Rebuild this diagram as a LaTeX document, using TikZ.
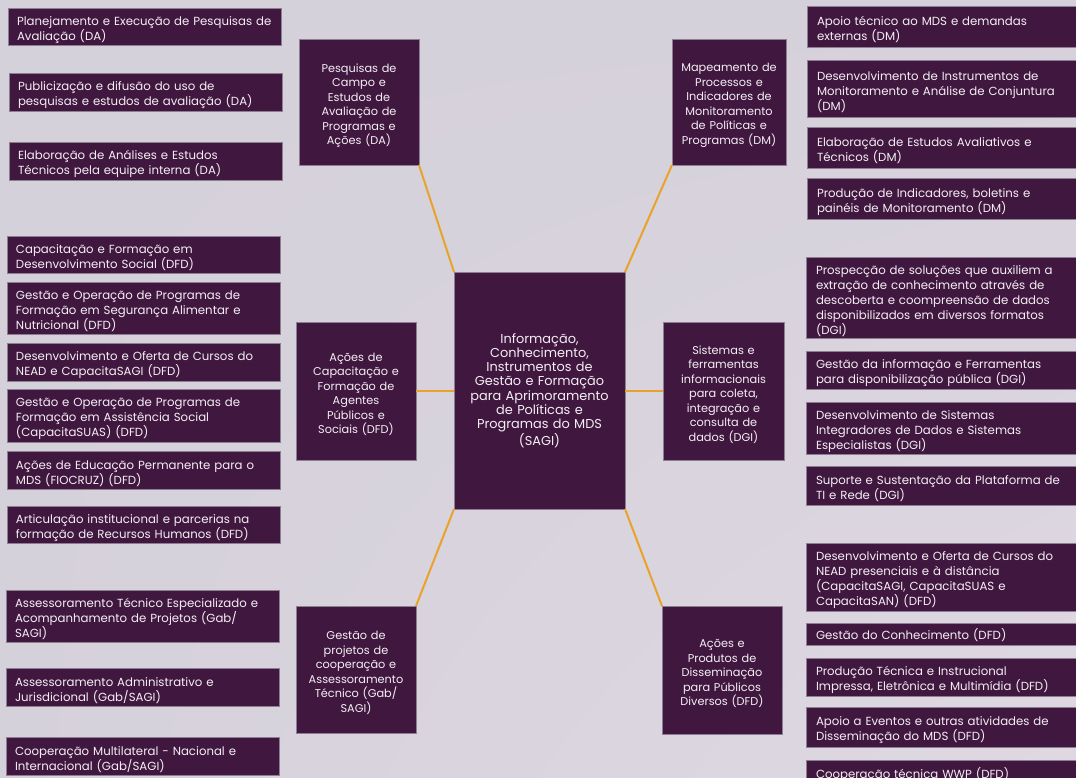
\documentclass[tikz,border=0pt]{standalone}
\usepackage{fontspec}
\setmainfont{Poppins}
\usetikzlibrary{shadings}
\definecolor{bgA}{HTML}{D5D1DB}
\definecolor{bgB}{HTML}{DFD8E2}
\definecolor{boxc}{HTML}{40183F}
\definecolor{edgec}{HTML}{8E7E92}
\definecolor{txtc}{HTML}{F4EEF4}
\definecolor{linkc}{HTML}{E9A22A}
\newcommand{\itemfont}{\fontsize{11.75}{15}\selectfont}
\newcommand{\hubfont}{\fontsize{11.3}{14.5}\selectfont}
\newcommand{\mainfont}{\fontsize{12.9}{14.3}\selectfont}
\tikzset{
  box/.style={fill=boxc, draw=edgec, line width=0.5pt, text=txtc, anchor=north west, inner ysep=0pt, outer sep=0pt},
  lower/.style={execute at end node={\par\kern-#1}},
  item/.style={box, align=left, font=\itemfont, lower=6.5pt},
  litem/.style={item, inner xsep=9pt, minimum width=273pt, text width=255pt},
  ritem/.style={item, inner xsep=10pt, minimum width=275pt, text width=262pt},
  hub/.style={box, align=center, inner xsep=3pt, font=\hubfont, lower=7pt},
  link/.style={draw=linkc, line width=2pt},
}
\begin{document}
\begin{tikzpicture}[x=1pt,y=-1pt]
\useasboundingbox (0,0) rectangle (1076,777);
\clip (0,0) rectangle (1076,777);
\shade[upper left=bgA, upper right=bgA, lower left=bgA, lower right=bgB] (0,0) rectangle (1076,777);

% hubs
\node[box, align=center, font=\mainfont, inner xsep=3pt, minimum width=171pt, minimum height=237pt, text width=165pt] (main) at (454,272) {Informação,\\Conhecimento,\\Instrumentos de\\Gestão e Formação\\para Aprimoramento\\de Políticas e\\Programas do MDS\\(SAGI)};
\node[hub, minimum width=120pt, minimum height=126pt, text width=114pt] (da) at (299,39) {Pesquisas de\\Campo e\\Estudos de\\Avaliação de\\Programas e\\Ações (DA)};
\node[hub, minimum width=114pt, minimum height=126pt, text width=108pt] (dm) at (672,39) {Mapeamento de\\Processos e\\Indicadores de\\Monitoramento\\de Políticas e\\Programas (DM)};
\node[hub, minimum width=120pt, minimum height=138pt, text width=114pt] (dfd) at (296,322) {Ações de\\Capacitação e\\Formação de\\Agentes\\Públicos e\\Sociais (DFD)};
\node[hub, minimum width=121pt, minimum height=138pt, text width=115pt] (dgi) at (663,322) {Sistemas e\\ferramentas\\informacionais\\para coleta,\\integração e\\consulta de\\dados (DGI)};
\node[hub, minimum width=120pt, minimum height=127pt, text width=114pt] (gab) at (296,606) {Gestão de\\projetos de\\cooperação e\\Assessoramento\\Técnico (Gab/\\SAGI)};
\node[hub, minimum width=120pt, minimum height=128pt, text width=114pt] (dis) at (662,606) {Ações e\\Produtos de\\Disseminação\\para Públicos\\Diversos (DFD)};

% links
\draw[link] (da.south east) -- (main.north west);
\draw[link] (dm.south west) -- (main.north east);
\draw[link] (dfd.east) -- (dfd.east -| main.west);
\draw[link] (main.east) -- (main.east -| dgi.west);
\draw[link] (gab.north east) -- (main.south west);
\draw[link] (dis.north west) -- (main.south east);

% left DA
\node[litem, minimum height=37pt] (l1) at (8,8) {Planejamento e Execução de Pesquisas de\\Avaliação (DA)};
\node[litem, minimum height=38pt] (l2) at (9,73) {Publicização e difusão do uso de\\pesquisas e estudos de avaliação (DA)};
\node[litem, minimum height=38pt] (l3) at (9,142) {Elaboração de Análises e Estudos\\Técnicos pela equipe interna (DA)};

% left DFD
\node[litem, minimum height=37pt] (b1) at (7,236) {Capacitação e Formação em\\Desenvolvimento Social (DFD)};
\node[litem, minimum height=52pt] (b2) at (7,282) {Gestão e Operação de Programas de\\Formação em Segurança Alimentar e\\Nutricional (DFD)};
\node[litem, minimum height=38pt] (b3) at (7,343) {Desenvolvimento e Oferta de Cursos do\\NEAD e CapacitaSAGI (DFD)};
\node[litem, minimum height=53pt] (b4) at (7,389) {Gestão e Operação de Programas de\\Formação em Assistência Social\\(CapacitaSUAS) (DFD)};
\node[litem, minimum height=38pt] (b5) at (7,451) {Ações de Educação Permanente para o\\MDS (FIOCRUZ) (DFD)};
\node[litem, minimum height=37pt] (b6) at (7,506) {Articulação institucional e parcerias na\\formação de Recursos Humanos (DFD)};

% left Gab
\node[litem, minimum height=52pt] (g1) at (6,590) {Assessoramento Técnico Especializado e\\Acompanhamento de Projetos (Gab/\\SAGI)};
\node[litem, minimum height=38pt] (g2) at (6,668) {Assessoramento Administrativo e\\Jurisdicional (Gab/SAGI)};
\node[litem, minimum height=38pt] (g3) at (6,737) {Cooperação Multilateral - Nacional e\\Internacional (Gab/SAGI)};

% right DM
\node[ritem, minimum height=41pt] (r1) at (807,6) {Apoio técnico ao MDS e demandas\\externas (DM)};
\node[ritem, minimum height=57pt] (r2) at (807,60) {Desenvolvimento de Instrumentos de\\Monitoramento e Análise de Conjuntura\\(DM)};
\node[ritem, minimum height=41pt] (r3) at (807,127) {Elaboração de Estudos Avaliativos e\\Técnicos (DM)};
\node[ritem, minimum height=41pt] (r4) at (807,178) {Produção de Indicadores, boletins e\\painéis de Monitoramento (DM)};

% right DGI
\node[ritem, minimum height=81pt] (r5) at (806,257) {Prospecção de soluções que auxiliem a\\extração de conhecimento através de\\descoberta e coompreensão de dados\\disponibilizados em diversos formatos\\(DGI)};
\node[ritem, minimum height=38pt] (r6) at (806,351) {Gestão da informação e Ferramentas\\para disponibilização pública (DGI)};
\node[ritem, minimum height=52pt] (r7) at (806,402) {Desenvolvimento de Sistemas\\Integradores de Dados e Sistemas\\Especialistas (DGI)};
\node[ritem, minimum height=39pt] (r8) at (806,466) {Suporte e Sustentação da Plataforma de\\TI e Rede (DGI)};

% right DFD
\node[ritem, minimum height=68pt] (d1) at (806,543) {Desenvolvimento e Oferta de Cursos do\\NEAD presenciais e à distância\\(CapacitaSAGI, CapacitaSUAS e\\CapacitaSAN) (DFD)};
\node[ritem, minimum height=22pt] (d2) at (806,623) {Gestão do Conhecimento (DFD)};
\node[ritem, minimum height=38pt] (d3) at (806,658) {Produção Técnica e Instrucional\\Impressa, Eletrônica e Multimídia (DFD)};
\node[ritem, minimum height=40pt] (d4) at (806,707) {Apoio a Eventos e outras atividades de\\Disseminação do MDS (DFD)};
\node[ritem, minimum height=26pt] (d5) at (806,760) {Cooperação técnica WWP (DFD)};
\end{tikzpicture}
\end{document}
